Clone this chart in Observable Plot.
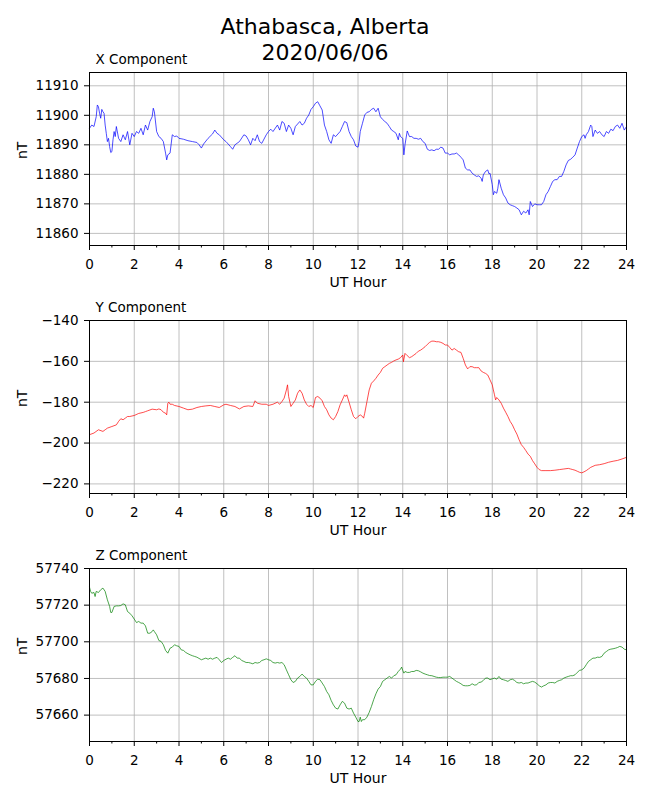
<!DOCTYPE html>
<html><head><meta charset="utf-8">
<script src="https://cdn.jsdelivr.net/npm/d3@7"></script>
<script src="https://cdn.jsdelivr.net/npm/@observablehq/plot@0.6"></script>
<style>
body{margin:0;background:#fff;font-family:"DejaVu Sans",sans-serif;}
#wrap{position:relative;width:650px;height:800px;background:#fff;}
#title{position:absolute;top:14px;left:0;width:650px;text-align:center;font-size:22px;line-height:26px;color:#000;z-index:2;font-family:"DejaVu Sans",sans-serif;}
#panels{position:absolute;top:50px;left:0;z-index:1;}
#panels svg{display:block;}
</style></head><body>
<div id="wrap"><div id="panels"></div><div id="title">Athabasca, Alberta<br>2020/06/06</div></div>
<script>
const stationTitle = ["Athabasca, Alberta", "2020/06/06"];
const panelTitles = ["X Component", "Y Component", "Z Component"];
const xAxisLabel = "UT Hour";
const yAxisLabel = "nT";
const hourTicks = [0,2,4,6,8,10,12,14,16,18,20,22,24];
const minorHourTicks = [1,3,5,7,9,11,13,15,17,19,21,23];
const xTicks = [11860,11870,11880,11890,11900,11910];
const yTicks = [-220,-200,-180,-160,-140];
const zTicks = [57660,57680,57700,57720,57740];
const xDomain = [11855.9, 11914.5];
const yDomain = [-224.7, -140];
const zDomain = [57645.6, 57740];

// [UT hour, nT]
const xComponent = [
[0,11895.6],[0.1,11896.7],[0.2,11896.2],[0.3,11899.5],[0.35,11903.5],[0.4,11902.9],[0.45,11900.7],[0.5,11899.0],[0.55,11902.0],[0.6,11901.2],[0.65,11900.7],[0.7,11896.7],[0.75,11893.9],[0.8,11891.1],[0.85,11892.2],[0.9,11889.4],[0.95,11887.4],[1.0,11887.7],[1.05,11891.7],[1.1,11894.5],[1.15,11892.8],[1.2,11896.2],[1.3,11892.2],[1.4,11891.1],[1.5,11893.4],[1.6,11891.7],[1.7,11894.5],[1.8,11890.0],[1.9,11893.9],[2.0,11892.8],[2.1,11894.5],[2.2,11893.9],[2.3,11895.6],[2.4,11893.4],[2.5,11896.7],[2.6,11895.0],[2.7,11897.9],[2.8,11899.5],[2.85,11902.4],[2.9,11901.2],[3.0,11894.5],[3.1,11892.8],[3.2,11892.2],[3.3,11891.1],[3.4,11887.2],[3.45,11884.9],[3.5,11886.6],[3.6,11887.2],[3.7,11893.4],[3.8,11892.8],[3.9,11893.0],[4.0,11892.2],[4.2,11891.9],[4.4,11891.4],[4.6,11891.1],[4.8,11890.8],[4.9,11890.0],[5.0,11888.9],[5.1,11890.3],[5.3,11892.2],[5.5,11893.7],[5.6,11895.0],[5.7,11893.9],[5.8,11893.4],[6.0,11891.7],[6.1,11891.1],[6.3,11889.4],[6.4,11888.5],[6.5,11890.0],[6.7,11891.1],[6.9,11893.4],[7.0,11893.0],[7.1,11891.7],[7.2,11890.0],[7.3,11892.2],[7.4,11891.4],[7.5,11893.4],[7.6,11891.1],[7.7,11890.5],[7.9,11893.4],[8.0,11894.5],[8.1,11895.3],[8.2,11894.5],[8.4,11896.7],[8.5,11895.0],[8.6,11897.9],[8.7,11897.3],[8.8,11894.5],[8.9,11896.7],[9.0,11895.6],[9.1,11893.4],[9.2,11896.2],[9.4,11897.9],[9.5,11896.7],[9.6,11897.3],[9.7,11899.0],[9.8,11900.1],[9.9,11902.0],[10.0,11902.9],[10.1,11904.1],[10.2,11904.6],[10.3,11903.2],[10.4,11901.8],[10.5,11896.7],[10.6,11894.5],[10.7,11891.7],[10.8,11890.5],[10.9,11893.4],[11.0,11892.8],[11.2,11894.5],[11.3,11896.2],[11.4,11897.9],[11.5,11897.5],[11.6,11894.5],[11.7,11892.8],[11.8,11891.7],[11.9,11889.6],[12.0,11889.2],
[12.05,11891.1],[12.1,11894.5],[12.2,11897.3],[12.3,11900.1],[12.4,11901.0],[12.5,11901.2],[12.6,11902.0],[12.7,11902.4],[12.8,11901.2],[12.9,11902.4],[13.0,11899.5],[13.1,11898.6],[13.2,11897.9],[13.3,11897.3],[13.4,11896.2],[13.5,11895.0],[13.6,11894.5],[13.7,11893.9],[13.8,11891.7],[13.85,11893.9],[13.9,11892.8],[14.0,11892.2],[14.05,11886.6],[14.1,11890.0],[14.2,11894.7],[14.3,11892.8],[14.4,11892.8],[14.5,11892.2],[14.6,11892.2],[14.7,11891.9],[14.8,11892.2],[14.9,11891.1],[15.0,11890.5],[15.1,11888.5],[15.2,11888.1],[15.3,11888.3],[15.4,11888.0],[15.5,11888.5],[15.6,11888.5],[15.7,11889.2],[15.8,11888.9],[15.9,11887.2],[16.0,11887.2],[16.1,11886.6],[16.2,11886.9],[16.3,11886.9],[16.4,11887.2],[16.5,11886.6],[16.6,11885.8],[16.7,11884.9],[16.8,11882.1],[16.9,11881.5],[17.0,11881.5],[17.1,11880.4],[17.2,11879.8],[17.3,11879.3],[17.4,11879.5],[17.5,11878.7],[17.55,11877.6],[17.6,11879.8],[17.7,11881.0],[17.8,11881.5],[17.85,11880.2],[17.9,11880.4],[18.0,11876.5],[18.05,11873.1],[18.1,11874.2],[18.2,11873.6],[18.25,11875.3],[18.3,11878.2],[18.4,11875.3],[18.5,11873.1],[18.6,11872.0],[18.7,11870.3],[18.8,11869.7],[18.9,11869.4],[19.0,11869.1],[19.1,11868.6],[19.2,11868.0],[19.3,11866.3],[19.4,11867.5],[19.5,11866.9],[19.6,11868.0],[19.65,11866.3],[19.7,11870.8],[19.8,11869.1],[19.9,11870.0],[20.0,11869.7],[20.1,11869.7],[20.2,11869.7],[20.3,11870.8],[20.4,11873.1],[20.5,11874.2],[20.6,11875.9],[20.7,11877.6],[20.8,11878.2],[20.9,11878.2],[21.0,11879.3],[21.1,11879.3],[21.2,11881.0],[21.3,11883.2],[21.4,11884.7],[21.5,11885.1],[21.6,11885.8],[21.7,11886.6],[21.8,11888.9],[21.9,11891.1],[22.0,11892.8],[22.1,11893.4],[22.15,11892.2],[22.2,11893.4],[22.3,11894.5],[22.4,11896.7],[22.45,11896.2],[22.5,11892.8],[22.6,11895.0],[22.7,11893.9],[22.8,11894.5],[22.9,11893.4],[23.0,11892.8],[23.1,11894.5],[23.2,11893.9],[23.3,11895.3],[23.4,11894.8],[23.5,11896.2],[23.6,11896.7],[23.7,11895.6],[23.8,11897.3],[23.9,11895.0],[24.0,11896.2]
];

const yComponent = [
[0,-195.9],[0.2,-195.1],[0.4,-193.5],[0.6,-194.3],[0.7,-193.5],[0.8,-192.7],[1.0,-191.9],[1.2,-191.1],[1.3,-189.4],[1.4,-188.1],[1.5,-188.6],[1.6,-187.8],[1.7,-187.0],[1.8,-187.0],[2.0,-186.5],[2.2,-185.5],[2.4,-185.0],[2.5,-184.6],[2.6,-184.2],[2.8,-183.4],[3.0,-183.7],[3.1,-183.3],[3.2,-183.7],[3.3,-184.9],[3.4,-185.4],[3.45,-186.2],[3.5,-180.5],[3.55,-180.0],[3.6,-181.0],[3.7,-181.0],[3.8,-181.6],[4.0,-182.1],[4.2,-182.9],[4.4,-183.7],[4.6,-183.4],[4.8,-182.6],[5.0,-182.1],[5.2,-181.8],[5.4,-181.6],[5.6,-182.1],[5.8,-182.6],[6.0,-181.3],[6.1,-181.0],[6.3,-181.6],[6.5,-182.1],[6.7,-183.3],[6.9,-182.1],[7.1,-181.8],[7.3,-182.1],[7.4,-179.3],[7.5,-180.5],[7.7,-181.0],[7.9,-181.0],[8.0,-181.6],[8.2,-181.0],[8.4,-180.0],[8.5,-181.0],[8.6,-179.7],[8.7,-178.0],[8.8,-174.0],[8.85,-171.5],[8.9,-177.2],[9.0,-182.1],[9.1,-180.5],[9.2,-178.9],[9.3,-175.6],[9.4,-174.0],[9.5,-175.6],[9.6,-178.9],[9.7,-181.0],[9.8,-182.1],[9.9,-181.6],[10.0,-182.6],[10.1,-177.7],[10.2,-177.2],[10.3,-178.0],[10.4,-179.3],[10.5,-182.1],[10.6,-183.7],[10.7,-186.2],[10.8,-187.8],[10.9,-188.6],[11.0,-187.0],[11.1,-184.6],[11.2,-181.3],[11.3,-178.9],[11.4,-176.4],[11.45,-177.2],[11.5,-176.4],[11.6,-180.0],[11.7,-183.7],[11.8,-187.0],[11.9,-188.1],[12.0,-187.0],
[12.1,-186.2],[12.2,-187.0],[12.25,-187.8],[12.3,-185.4],[12.4,-179.7],[12.5,-174.0],[12.6,-170.7],[12.7,-169.6],[12.8,-168.3],[12.9,-166.7],[13.0,-165.4],[13.1,-163.4],[13.2,-162.6],[13.3,-161.8],[13.4,-161.0],[13.5,-160.5],[13.6,-159.8],[13.7,-159.3],[13.8,-158.9],[13.9,-158.2],[14.0,-156.9],[14.03,-160.2],[14.1,-156.1],[14.2,-157.2],[14.3,-158.2],[14.4,-157.7],[14.5,-156.9],[14.6,-156.1],[14.7,-155.0],[14.8,-154.5],[14.9,-153.7],[15.0,-152.8],[15.1,-151.7],[15.2,-150.7],[15.3,-150.1],[15.4,-150.1],[15.5,-150.4],[15.6,-150.4],[15.7,-150.7],[15.8,-151.2],[15.9,-152.0],[16.0,-152.0],[16.1,-153.2],[16.2,-154.5],[16.3,-153.7],[16.4,-154.5],[16.5,-155.3],[16.6,-155.6],[16.7,-158.5],[16.8,-161.8],[16.9,-163.7],[17.0,-162.6],[17.1,-162.6],[17.2,-163.1],[17.3,-163.1],[17.4,-163.1],[17.5,-164.7],[17.6,-165.4],[17.7,-165.9],[17.8,-166.7],[17.9,-169.1],[18.0,-171.5],[18.05,-174.0],[18.1,-176.4],[18.15,-178.9],[18.2,-177.7],[18.3,-178.9],[18.4,-180.5],[18.5,-182.9],[18.6,-184.9],[18.7,-187.0],[18.8,-189.4],[18.9,-191.1],[19.0,-193.5],[19.1,-195.6],[19.2,-198.4],[19.3,-200.8],[19.4,-202.1],[19.5,-203.7],[19.6,-205.4],[19.7,-206.5],[19.8,-208.6],[19.9,-210.2],[20.0,-211.9],[20.1,-213.0],[20.2,-213.5],[20.4,-213.5],[20.6,-213.5],[20.8,-213.3],[21.0,-213.0],[21.2,-212.7],[21.4,-212.4],[21.5,-212.7],[21.6,-213.0],[21.7,-213.3],[21.8,-213.8],[21.9,-214.3],[22.0,-214.6],[22.1,-214.1],[22.2,-213.5],[22.3,-212.7],[22.4,-211.9],[22.5,-211.4],[22.6,-210.9],[22.8,-210.6],[23.0,-210.1],[23.2,-209.4],[23.4,-208.9],[23.6,-208.5],[23.8,-207.8],[24.0,-207.0]
];

const zComponent = [
[0,57729.8],[0.05,57727.5],[0.1,57726.5],[0.2,57726.9],[0.25,57724.7],[0.3,57727.5],[0.4,57726.9],[0.5,57728.4],[0.6,57729.3],[0.7,57727.5],[0.8,57722.9],[0.9,57719.3],[0.95,57716.0],[1.0,57716.0],[1.1,57719.3],[1.2,57719.6],[1.3,57719.6],[1.4,57719.8],[1.5,57720.7],[1.6,57720.2],[1.7,57716.5],[1.8,57715.6],[1.9,57714.2],[2.0,57712.4],[2.1,57710.5],[2.2,57711.1],[2.3,57710.2],[2.4,57710.2],[2.5,57708.7],[2.6,57704.7],[2.7,57704.7],[2.8,57705.6],[2.85,57706.5],[2.9,57705.6],[3.0,57703.8],[3.1,57700.7],[3.2,57700.2],[3.3,57698.4],[3.4,57695.3],[3.5,57693.8],[3.6,57696.5],[3.7,57697.1],[3.8,57698.4],[3.9,57697.8],[4.0,57697.5],[4.1,57695.6],[4.2,57695.3],[4.3,57694.2],[4.4,57693.5],[4.5,57692.9],[4.6,57692.4],[4.7,57692.0],[4.8,57691.6],[5.0,57690.2],[5.2,57691.1],[5.3,57690.5],[5.4,57691.1],[5.5,57690.5],[5.6,57691.1],[5.7,57691.5],[5.8,57690.2],[5.9,57688.7],[6.0,57689.8],[6.1,57690.5],[6.2,57691.1],[6.3,57690.5],[6.4,57691.5],[6.5,57692.4],[6.6,57691.1],[6.7,57691.1],[6.8,57689.8],[6.9,57689.3],[7.0,57688.7],[7.1,57688.7],[7.2,57688.4],[7.3,57688.0],[7.4,57688.7],[7.5,57688.4],[7.6,57688.7],[7.7,57689.8],[7.8,57690.2],[7.9,57690.7],[8.0,57690.2],[8.1,57689.8],[8.2,57688.7],[8.3,57688.4],[8.4,57688.7],[8.5,57688.4],[8.6,57688.7],[8.7,57687.5],[8.8,57684.7],[8.9,57682.0],[9.0,57679.3],[9.1,57677.8],[9.2,57678.4],[9.3,57680.2],[9.4,57681.1],[9.5,57682.4],[9.6,57681.1],[9.7,57680.2],[9.8,57678.4],[9.9,57676.5],[10.0,57676.5],[10.1,57678.4],[10.2,57679.6],[10.3,57679.3],[10.4,57677.5],[10.5,57675.6],[10.6,57672.9],[10.7,57671.1],[10.8,57668.0],[10.9,57665.6],[11.0,57663.8],[11.1,57663.3],[11.2,57665.6],[11.3,57667.5],[11.4,57666.5],[11.5,57663.8],[11.6,57663.3],[11.7,57663.8],[11.8,57661.1],[11.9,57658.9],[12.0,57656.5],
[12.05,57656.5],[12.1,57658.9],[12.15,57656.5],[12.2,57657.5],[12.3,57657.5],[12.4,57658.9],[12.5,57661.5],[12.6,57664.7],[12.7,57668.4],[12.8,57671.6],[12.9,57674.2],[13.0,57675.6],[13.1,57678.4],[13.2,57679.3],[13.3,57680.2],[13.4,57681.1],[13.5,57680.2],[13.6,57681.5],[13.7,57682.0],[13.8,57683.8],[13.9,57685.1],[13.95,57686.2],[14.0,57684.4],[14.05,57682.9],[14.1,57683.8],[14.2,57683.3],[14.3,57683.3],[14.4,57683.8],[14.5,57683.8],[14.6,57684.4],[14.7,57684.2],[14.8,57683.6],[14.9,57682.9],[15.0,57682.4],[15.1,57682.0],[15.2,57681.6],[15.3,57681.5],[15.4,57681.1],[15.5,57680.7],[15.6,57680.5],[15.7,57680.5],[15.8,57680.7],[15.9,57680.7],[16.0,57680.7],[16.1,57681.1],[16.2,57680.2],[16.3,57679.3],[16.4,57678.4],[16.5,57677.8],[16.6,57677.1],[16.7,57676.2],[16.8,57676.0],[16.9,57676.0],[17.0,57676.2],[17.1,57677.1],[17.2,57676.4],[17.3,57676.5],[17.4,57677.8],[17.5,57678.0],[17.6,57678.9],[17.7,57680.2],[17.8,57680.2],[17.9,57679.3],[18.0,57679.8],[18.1,57680.2],[18.2,57679.6],[18.3,57681.1],[18.4,57679.6],[18.5,57679.3],[18.6,57678.9],[18.7,57678.4],[18.8,57679.3],[18.9,57679.6],[19.0,57678.9],[19.1,57677.8],[19.2,57677.5],[19.3,57677.8],[19.4,57677.1],[19.5,57677.5],[19.6,57677.5],[19.7,57678.0],[19.8,57678.4],[19.9,57678.0],[20.0,57677.1],[20.1,57676.0],[20.2,57675.3],[20.3,57676.0],[20.4,57676.5],[20.5,57677.5],[20.6,57677.8],[20.7,57677.8],[20.8,57677.5],[20.9,57678.4],[21.0,57678.9],[21.1,57679.3],[21.2,57680.2],[21.3,57680.7],[21.4,57681.1],[21.5,57681.5],[21.6,57681.5],[21.7,57682.0],[21.8,57683.3],[21.9,57684.4],[22.0,57684.7],[22.1,57685.6],[22.2,57687.5],[22.3,57689.3],[22.4,57690.2],[22.5,57691.1],[22.6,57691.1],[22.7,57691.6],[22.8,57691.5],[22.9,57692.0],[23.0,57693.8],[23.1,57694.7],[23.2,57695.6],[23.3,57696.0],[23.4,57696.2],[23.5,57696.5],[23.6,57696.9],[23.7,57697.5],[23.8,57697.1],[23.9,57696.0],[24.0,57695.6]
];

const FONT = "DejaVu Sans";
const FS = 13.5;
const GRID = "#b0b0b0";
const fmt = d => d < 0 ? "\u2212" + Math.abs(d) : String(d);

function panel(series, color, domain, ticks, title) {
  const data = series.map(([h, v]) => ({h, v}));
  return Plot.plot({
    width: 650, height: 248,
    marginLeft: 89, marginRight: 24, marginTop: 22, marginBottom: 53,
    style: {fontFamily: FONT, fontSize: FS + "px", color: "black", background: "white", overflow: "visible"},
    x: {domain: [0, 24]},
    y: {domain, nice: false},
    marks: [
      Plot.gridX(hourTicks, {stroke: GRID, strokeOpacity: 1, strokeWidth: 0.8}),
      Plot.gridY(ticks, {stroke: GRID, strokeOpacity: 1, strokeWidth: 0.8}),
      Plot.line(data, {x: "h", y: "v", stroke: color, strokeWidth: 0.7}),
      Plot.frame({stroke: "black", strokeWidth: 1}),
      Plot.axisX(hourTicks, {tickSize: 5, tickPadding: 9, fontSize: FS, label: null}),
      Plot.axisX(minorHourTicks, {tickSize: 2.5, tickFormat: () => "", label: null}),
      Plot.axisY(ticks, {tickSize: 5, tickPadding: 6, fontSize: FS, tickFormat: fmt, label: null}),
      Plot.text([xAxisLabel], {text: d => d, frameAnchor: "bottom", lineAnchor: "middle", dy: 37, fontSize: 14}),
      Plot.text([yAxisLabel], {text: d => d, frameAnchor: "left", dx: -67, rotate: -90, fontSize: 14}),
      Plot.text([title], {text: d => d, frameAnchor: "top-left", textAnchor: "start", lineAnchor: "middle", dx: 6, dy: -13, fontSize: FS})
    ]
  });
}

const host = document.getElementById("panels");
host.append(panel(xComponent, "#0000ff", xDomain, xTicks, panelTitles[0]));
host.append(panel(yComponent, "#ff0000", yDomain, yTicks, panelTitles[1]));
host.append(panel(zComponent, "#008000", zDomain, zTicks, panelTitles[2]));
document.getElementById("title").innerHTML = stationTitle.join("<br>");
</script>
</body></html>
